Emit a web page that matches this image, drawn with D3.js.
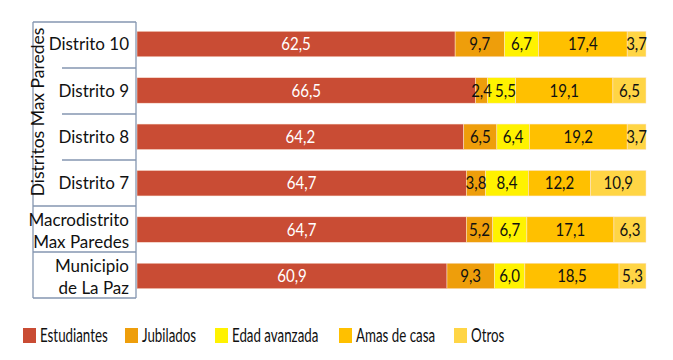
<!DOCTYPE html>
<html><head><meta charset="utf-8">
<script src="https://cdn.jsdelivr.net/npm/d3@7"></script>
<style>body{margin:0;background:#fff}svg{font-family:Lato,"Open Sans",sans-serif}</style>
</head><body><svg id="c" width="673" height="360"></svg>
<script>
const categories = ["Distrito 10","Distrito 9","Distrito 8","Distrito 7","Macrodistrito|Max Paredes","Municipio|de La Paz"];
const seriesNames = ["Estudiantes","Jubilados","Edad avanzada","Amas de casa","Otros"];
const estudiantes = [62.5,66.5,64.2,64.7,64.7,60.9];
const jubilados   = [9.7,2.4,6.5,3.8,5.2,9.3];
const edadAvanzada= [6.7,5.5,6.4,8.4,6.7,6.0];
const amasDeCasa  = [17.4,19.1,19.2,12.2,17.1,18.5];
const otros       = [3.7,6.5,3.7,10.9,6.3,5.3];
const colors = ["#C94C34","#EE9E0B","#FFF200","#FFC000","#FFD545"];
const groupLabel = "Distritos Max Paredes";

(function(){
const svg = d3.select("#c");
const rows = categories.map((c,i)=>({cat:c, Estudiantes:estudiantes[i], Jubilados:jubilados[i],
  "Edad avanzada":edadAvanzada[i], "Amas de casa":amasDeCasa[i], Otros:otros[i]}));
const stack = d3.stack().keys(seriesNames)(rows);

const x = d3.scaleLinear().domain([0,100]).range([137,646]);
const y = d3.scaleBand().domain(categories).range([22,298]).paddingInner(0.45).paddingOuter(0.2);
const color = d3.scaleOrdinal().domain(seriesNames).range(colors);

const g = svg.append("g");
stack.forEach(s=>{
  g.selectAll(null).data(s).enter().append("rect")
    .attr("x",d=>x(d[0])).attr("width",d=>x(d[1])-x(d[0]))
    .attr("y",d=>y(d.data.cat)).attr("height",y.bandwidth())
    .attr("fill",color(s.key)).attr("stroke","#fbe6d8").attr("stroke-width",0.5);
});
const lastRight = {};
stack.forEach(s=>{
  s.forEach(d=>{
    const cat = d.data.cat;
    let cx = (x(d[0])+x(d[1]))/2;
    const t = g.append("text")
      .attr("y",y(cat)+y.bandwidth()/2)
      .attr("dy","0.36em").attr("text-anchor","middle").attr("font-size",17.5)
      .attr("fill",s.key==="Estudiantes"?"#fff":"#111")
      .text(d3.format(".1f")(d[1]-d[0]).replace(".",","));
    const w = t.node().getComputedTextLength()*0.86;
    t.attr("textLength",w).attr("lengthAdjust","spacingAndGlyphs");
    if(lastRight[cat]!==undefined && cx - w/2 < lastRight[cat] + 3) cx = lastRight[cat] + 3 + w/2;
    t.attr("x",cx);
    lastRight[cat] = cx + w/2;
  });
});

const lc = "#8496B0";
const yTop = 22, yBot = 298, xr = 136, xl = 33, xg = 62;
const fr = svg.append("g").attr("stroke",lc).attr("stroke-width",1.3).attr("fill","none");
fr.append("line").attr("x1",xr).attr("x2",xr).attr("y1",yTop).attr("y2",yBot);
fr.append("line").attr("x1",xl).attr("x2",xl).attr("y1",yTop).attr("y2",yBot);
fr.append("line").attr("x1",xl).attr("x2",xr).attr("y1",yTop).attr("y2",yTop);
categories.forEach((c,i)=>{
  const yy = yTop + (i+1)*(yBot-yTop)/categories.length;
  const x1 = i<3 ? xg : xl;
  fr.append("line").attr("x1",x1).attr("x2",xr).attr("y1",yy).attr("y2",yy);
});

categories.forEach(c=>{
  const parts = c.split("|");
  const cy = y(c)+y.bandwidth()/2;
  const t = svg.append("text").attr("text-anchor","end").attr("font-size",17).attr("fill","#111");
  if(parts.length===1){
    t.attr("x",129).attr("y",cy).attr("dy","0.36em").text(parts[0]);
  } else {
    parts.forEach((p,k)=>t.append("tspan").attr("x",129).attr("y",cy+(k===0?-10:12)).attr("dy","0.36em").text(p));
  }
});
svg.append("text").attr("transform",`translate(38,112) rotate(-90)`)
  .attr("text-anchor","middle").attr("dy","0.36em").attr("font-size",17.5).attr("fill","#111").text(groupLabel);

const lx = [23,125,215,339,454];
const lg = svg.append("g");
seriesNames.forEach((s,i)=>{
  lg.append("rect").attr("x",lx[i]).attr("y",328).attr("width",13).attr("height",15).attr("fill",colors[i]);
  const t = lg.append("text").attr("x",lx[i]+17).attr("y",335).attr("dy","0.36em").attr("font-size",18.5).attr("fill","#111").text(s);
  const w = t.node().getComputedTextLength();
  t.attr("textLength",w*0.72).attr("lengthAdjust","spacingAndGlyphs");
});
})();
</script></body></html>
